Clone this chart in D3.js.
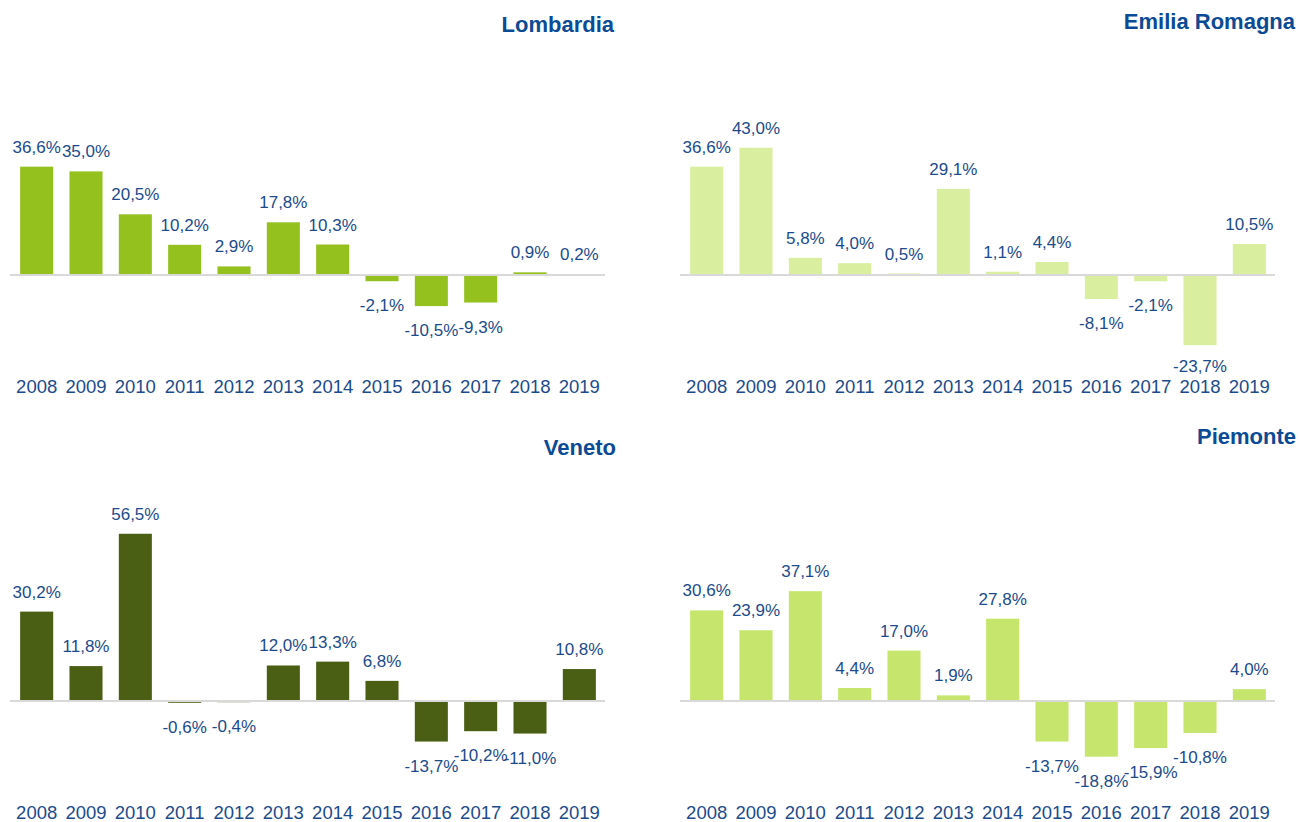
<!DOCTYPE html>
<meta charset="utf-8">
<style>
    body { margin: 0; background: #fff; }
    text { font-family: "Liberation Sans", Arial, sans-serif; }
    .title { font-weight: bold; font-size: 22px; fill: #0b4a94; }
    .val { font-size: 17px; fill: #1b4b8c; }
    .axis text { font-size: 18.5px; fill: #1b4b8c; }
</style>
<body>
<div id="chart"></div>
<script src="https://d3js.org/d3.v7.min.js"></script>
<script>

var years = ["2008", "2009", "2010", "2011", "2012", "2013", "2014", "2015", "2016", "2017", "2018", "2019"];

var lombardia = [36.6, 35.0, 20.5, 10.2, 2.9, 17.8, 10.3, -2.1, -10.5, -9.3, 0.9, 0.2];
var emilia    = [36.6, 43.0, 5.8, 4.0, 0.5, 29.1, 1.1, 4.4, -8.1, -2.1, -23.7, 10.5];
var veneto    = [30.2, 11.8, 56.5, -0.6, -0.4, 12.0, 13.3, 6.8, -13.7, -10.2, -11.0, 10.8];
var piemonte  = [30.6, 23.9, 37.1, 4.4, 17.0, 1.9, 27.8, -13.7, -18.8, -15.9, -10.8, 4.0];

var titles = ["Lombardia", "Emilia Romagna", "Veneto", "Piemonte"];

var width = 1298,
    height = 822;

// panel layout (zero line y, x range, title anchor)
var panels = [
  { name: titles[0], values: lombardia, color: "#95c11f", x0: 12,  x1: 604,  zero: 275, tx: 614,  ty: 32 },
  { name: titles[1], values: emilia,    color: "#d9ef9f", x0: 682, x1: 1274, zero: 275, tx: 1295, ty: 29 },
  { name: titles[2], values: veneto,    color: "#4b5f14", x0: 12,  x1: 604,  zero: 701, tx: 616,  ty: 455 },
  { name: titles[3], values: piemonte,  color: "#c5e56c", x0: 682, x1: 1274, zero: 701, tx: 1296, ty: 444 }
];

var it = d3.formatLocale({ decimal: ",", thousands: ".", grouping: [3], currency: ["€", ""], minus: "-" });
var fmt = it.format(".1f");

var svg = d3.select("#chart").append("svg")
    .attr("width", width)
    .attr("height", height);

panels.forEach(function(p) {
  var g = svg.append("g");

  var x = d3.scaleBand()
      .domain(years)
      .range([p.x0, p.x1])
      .paddingInner(0.33)
      .paddingOuter(0.165);

  var y = d3.scaleLinear()
      .domain([-25, 60])
      .range([p.zero + 25 * 2.96, p.zero - 60 * 2.96]);

  var data = years.map(function(yr, i) { return { year: yr, v: p.values[i] }; });

  g.selectAll("rect")
      .data(data)
    .enter().append("rect")
      .attr("x", function(d) { return x(d.year); })
      .attr("y", function(d) { return y(Math.max(0, d.v)); })
      .attr("width", x.bandwidth())
      .attr("height", function(d) { return Math.abs(y(d.v) - y(0)); })
      .attr("fill", p.color);

  g.append("line")
      .attr("x1", p.x0 - 2)
      .attr("x2", p.x1 + 1)
      .attr("y1", y(0))
      .attr("y2", y(0))
      .attr("stroke", "#d9d9d9")
      .attr("stroke-width", 2);

  g.selectAll(".val")
      .data(data)
    .enter().append("text")
      .attr("class", "val")
      .attr("text-anchor", "middle")
      .attr("x", function(d) { return x(d.year) + x.bandwidth() / 2; })
      .attr("y", function(d) {
        // keep negative labels just above the year labels
        return d.v >= 0 ? y(d.v) - 14 : Math.min(y(d.v) + 30, p.zero + 97);
      })
      .text(function(d) { return fmt(d.v) + "%"; });

  var axis = g.append("g")
      .attr("class", "axis")
      .attr("transform", "translate(0," + (p.zero + 105) + ")")
      .call(d3.axisBottom(x).tickSize(0).tickPadding(0));
  axis.select(".domain").remove();
  axis.selectAll("text").attr("font-family", null).attr("font-size", null);

  g.append("text")
      .attr("class", "title")
      .attr("text-anchor", "end")
      .attr("x", p.tx)
      .attr("y", p.ty)
      .text(p.name);
});

</script>
</body>
